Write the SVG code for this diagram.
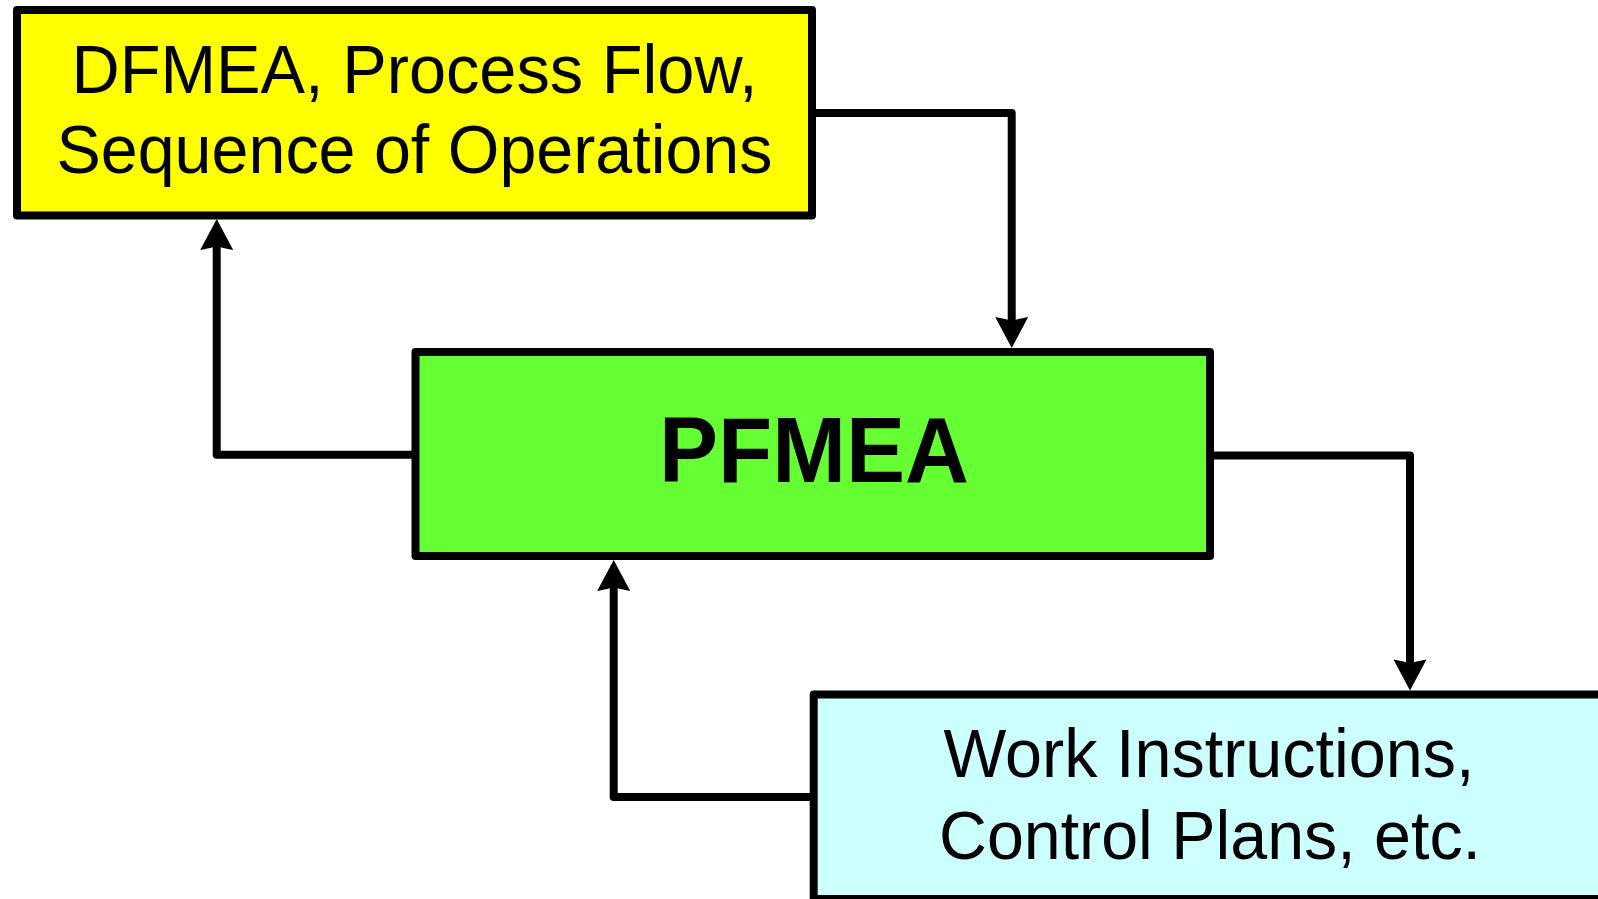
<svg xmlns="http://www.w3.org/2000/svg" width="1598" height="899" viewBox="0 0 1598 899">
<style>
.box{stroke:#000;stroke-width:8;stroke-linejoin:round}
.t{font-family:"Liberation Sans",Arial,sans-serif;font-size:69px;fill:#000;text-anchor:middle}
.tb{font-family:"Liberation Sans",Arial,sans-serif;font-size:93px;font-weight:bold;fill:#000;text-anchor:middle}
.c{fill:none;stroke:#000;stroke-width:8;stroke-linejoin:round}
.ah{fill:#000;stroke:none}
</style>
<rect width="1598" height="899" fill="#fff"/>
<g id="node-inputs">
<rect class="box" x="17" y="10" width="795" height="205.5" fill="#FFFF00"/>
<text class="t" x="414.5" y="92.5" textLength="686" lengthAdjust="spacingAndGlyphs">DFMEA, Process Flow,</text>
<text class="t" x="414.5" y="173" textLength="716" lengthAdjust="spacingAndGlyphs">Sequence of Operations</text>
</g>
<g id="node-pfmea">
<rect class="box" x="415.5" y="352" width="794.5" height="204" fill="#66FF33"/>
<text class="tb" x="814" y="481.5" textLength="310" lengthAdjust="spacingAndGlyphs">PFMEA</text>
</g>
<g id="node-outputs">
<rect class="box" x="813.7" y="694.5" width="792" height="204.5" fill="#CCFFFF"/>
<text class="t" x="1209" y="777" textLength="531" lengthAdjust="spacingAndGlyphs">Work Instructions,</text>
<text class="t" x="1210" y="858.5" textLength="542" lengthAdjust="spacingAndGlyphs">Control Plans, etc.</text>
</g>
<g id="connectors">
<path class="c" d="M812,113 H1011.7 V324"/>
<path class="ah" d="M995.2,317 L1011.7,348 L1028.2,317 Q1011.7,320 1011.7,322 Q1011.7,320 995.2,317 Z"/>
<path class="c" d="M415.5,454.7 H216.7 V243"/>
<path class="ah" d="M200.2,250 L216.7,219 L233.2,250 Q216.7,247 216.7,245 Q216.7,247 200.2,250 Z"/>
<path class="c" d="M1210,455.5 H1410 V666.5"/>
<path class="ah" d="M1393.5,659.5 L1410,690.5 L1426.5,659.5 Q1410,662.5 1410,664.5 Q1410,662.5 1393.5,659.5 Z"/>
<path class="c" d="M813.7,797 H613.7 V584"/>
<path class="ah" d="M597.2,591 L613.7,560 L630.2,591 Q613.7,588 613.7,586 Q613.7,588 597.2,591 Z"/>
</g>
</svg>
